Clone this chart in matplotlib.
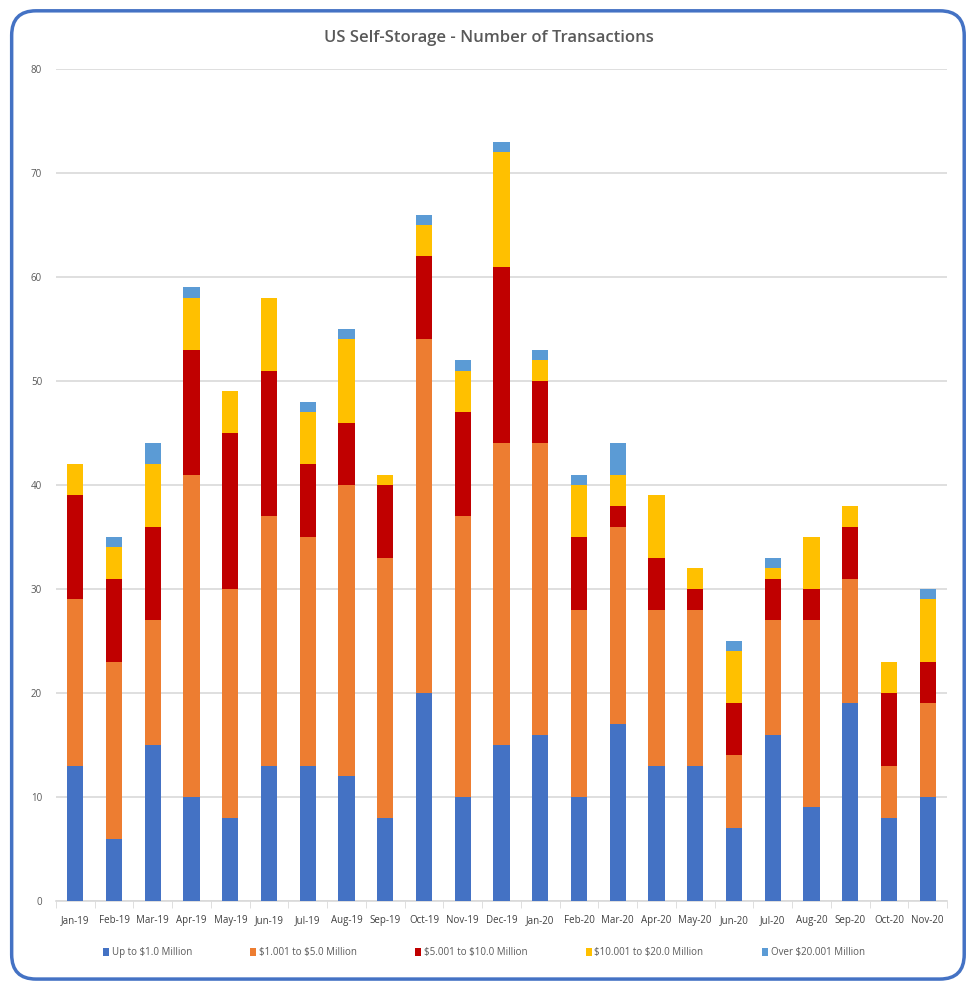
import matplotlib.pyplot as plt
import numpy as np
from matplotlib.patches import FancyBboxPatch

plt.rcParams['font.family'] = ['Open Sans', 'DejaVu Sans']

months = ['Jan-19', 'Feb-19', 'Mar-19', 'Apr-19', 'May-19', 'Jun-19', 'Jul-19', 'Aug-19',
          'Sep-19', 'Oct-19', 'Nov-19', 'Dec-19', 'Jan-20', 'Feb-20', 'Mar-20', 'Apr-20',
          'May-20', 'Jun-20', 'Jul-20', 'Aug-20', 'Sep-20', 'Oct-20', 'Nov-20']

up_to_1m   = [13, 6, 15, 10, 8, 13, 13, 12, 8, 20, 10, 15, 16, 10, 17, 13, 13, 7, 16, 9, 19, 8, 10]
m1_to_5    = [16, 17, 12, 31, 22, 24, 22, 28, 25, 34, 27, 29, 28, 18, 19, 15, 15, 7, 11, 18, 12, 5, 9]
m5_to_10   = [10, 8, 9, 12, 15, 14, 7, 6, 7, 8, 10, 17, 6, 7, 2, 5, 2, 5, 4, 3, 5, 7, 4]
m10_to_20  = [3, 3, 6, 5, 4, 7, 5, 8, 1, 3, 4, 11, 2, 5, 3, 6, 2, 5, 1, 5, 2, 3, 6]
over_20m   = [0, 1, 2, 1, 0, 0, 1, 1, 0, 1, 1, 1, 1, 1, 3, 0, 0, 1, 1, 0, 0, 0, 1]

series = [up_to_1m, m1_to_5, m5_to_10, m10_to_20, over_20m]
labels = [r'Up to \$1.0 Million', r'\$1.001 to \$5.0 Million', r'\$5.001 to \$10.0 Million',
          r'\$10.001 to \$20.0 Million', r'Over \$20.001 Million']
colors = ['#4472C4', '#ED7D31', '#C00000', '#FFC000', '#5B9BD5']

fig = plt.figure(figsize=(9.72, 9.83), dpi=100)
ax = fig.add_axes([0.0576, 0.0834, 0.9167, 0.8464])

x = np.arange(len(months))
bottom = np.zeros(len(months))
for vals, lab, col in zip(series, labels, colors):
    ax.bar(x, vals, 0.42, bottom=bottom, color=col, label=lab, zorder=3)
    bottom += np.array(vals)

ax.set_xlim(-0.5, len(months) - 0.5)
ax.set_ylim(0, 80)
ax.set_yticks(range(0, 81, 10))
ax.yaxis.grid(True, color='#d9d9d9', linewidth=1.2, zorder=0)
ax.tick_params(axis='y', length=0, labelsize=7, labelcolor='#595959', pad=10)

ax.set_xticks(x)
ax.set_xticklabels(months)
ax.set_xticks(np.arange(-0.5, len(months), 1), minor=True)
ax.tick_params(axis='x', which='major', length=0, labelsize=7, labelcolor='#404040', pad=10)
ax.tick_params(axis='x', which='minor', length=5, color='#d9d9d9')

for s in ['left', 'right', 'top']:
    ax.spines[s].set_visible(False)
ax.spines['bottom'].set_color('#d9d9d9')
ax.spines['bottom'].set_linewidth(1.2)

fig.text(0.503, 0.961, 'US Self-Storage - Number of Transactions', ha='center', va='center',
         fontsize=12, color='#595959', fontweight='semibold')

ax.legend(loc='upper center', bbox_to_anchor=(0.48, -0.045), ncol=5, frameon=False,
          fontsize=7, handlelength=0.6, handleheight=0.8, handletextpad=0.3,
          columnspacing=6.0, labelcolor='#595959')

# rounded frame around the whole chart
frame = FancyBboxPatch((0.012, 0.004), 0.98, 0.985, boxstyle='round,pad=0,rounding_size=0.025',
                       transform=fig.transFigure, fill=False, edgecolor='#4472C4', linewidth=2.5)
fig.patches.append(frame)

fig.savefig('out.png', dpi=100)
